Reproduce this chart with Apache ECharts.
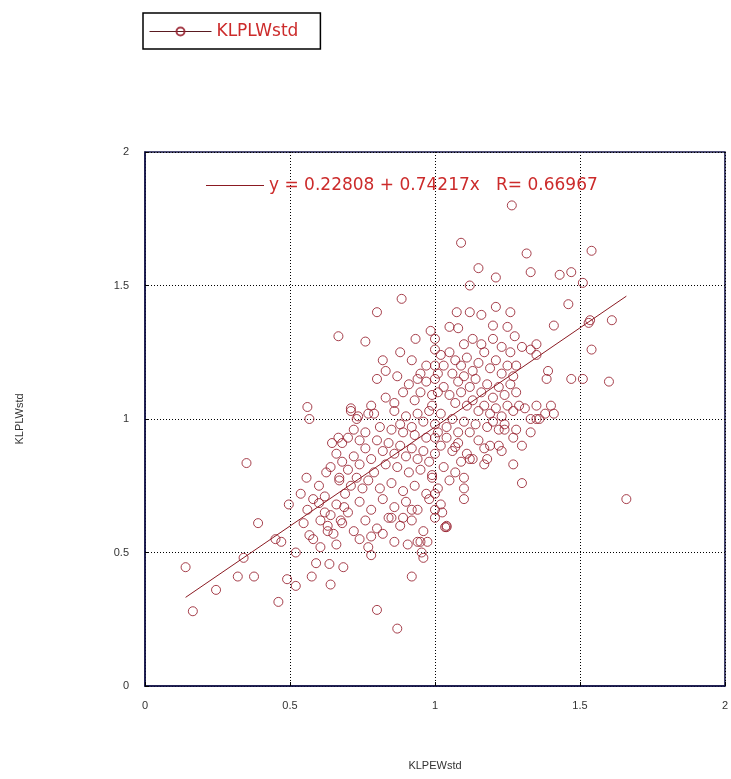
<!DOCTYPE html>
<html>
<head>
<meta charset="utf-8">
<script src="https://cdn.jsdelivr.net/npm/echarts@6/dist/echarts.min.js"></script>
<style>html,body{margin:0;padding:0;background:#fff;overflow:hidden;}#c{width:731px;height:779px;}</style>
</head>
<body>
<div id="c"></div>
<script>
const xName = 'KLPEWstd';
const yName = 'KLPLWstd';
const seriesName = 'KLPLWstd';
const fitIntercept = 0.22808;
const fitSlope = 0.74217;
const fitR = 0.66967;
const fitXRange = [0.14, 1.66];
const xTicks = [0, 0.5, 1, 1.5, 2];
const yTicks = [0, 0.5, 1, 1.5, 2];

const outerPoints = [
[1.265,1.80],[1.09,1.66],[1.316,1.62],[1.54,1.63],[1.15,1.565],[1.21,1.53],[1.33,1.55],[1.43,1.54],[1.47,1.55],[1.51,1.51],
[1.12,1.50],[0.885,1.45],[1.46,1.43],[1.535,1.37],[1.61,1.37],[0.80,1.40],[1.075,1.40],[1.12,1.40],[1.16,1.39],[1.21,1.42],
[1.26,1.40],[0.667,1.31],[0.76,1.29],[0.933,1.30],[0.985,1.33],[1.05,1.345],[1.08,1.34],[1.20,1.35],[1.25,1.345],[1.275,1.31],
[1.41,1.35],[1.53,1.36],[1.35,1.28],[1.33,1.26],[1.35,1.24],[1.54,1.26],[1.39,1.18],[1.385,1.15],[1.47,1.15],[1.51,1.15],
[1.60,1.14],[0.88,1.25],[0.82,1.22],[0.83,1.18],[0.80,1.15],[0.56,1.045],[0.567,1.00],[0.71,1.04],[0.735,1.01],[0.79,1.02],
[1.40,1.05],[1.41,1.02],[1.35,1.00],[1.27,0.93],[1.27,0.83],[1.30,0.76],[1.66,0.70],[1.22,0.90],[1.17,0.89],[1.18,0.85],
[1.12,0.85],[1.10,0.78],[1.10,0.74],[1.10,0.70],[1.04,0.595],[0.95,0.54],[1.28,0.96],[1.24,0.96],[1.07,0.895]
];
const lowerLeftPoints = [
[0.14,0.445],[0.165,0.28],[0.245,0.36],[0.32,0.41],[0.34,0.48],[0.376,0.41],[0.39,0.61],[0.35,0.835],[0.45,0.55],[0.46,0.315],
[0.49,0.40],[0.496,0.68],[0.52,0.375],[0.52,0.50],[0.547,0.61],[0.567,0.565],[0.58,0.55],[0.59,0.46],[0.575,0.41],[0.60,0.685],
[0.625,0.80],[0.537,0.72],[0.557,0.78],[0.667,0.93],[0.645,0.91],[0.64,0.38],[0.636,0.457],[0.684,0.445],[0.605,0.62],[0.605,0.52],
[0.66,0.53],[0.63,0.58],[0.675,0.62],[0.62,0.65],[0.687,0.67],[0.80,0.285],[0.87,0.215],[0.77,0.52],[0.78,0.49],[0.92,0.41],
[0.954,0.50],[0.96,0.48],[0.94,0.54],[0.974,0.54],[1.035,0.595],[1.025,0.65],[0.92,0.66],[0.89,0.63],[0.85,0.63],[0.906,0.53],[0.47,0.54]
];
const upperClusterPoints = [
[1.00,1.26],[1.02,1.24],[1.05,1.25],[1.07,1.22],[1.09,1.20],[1.11,1.23],[1.13,1.18],[1.15,1.21],[1.17,1.25],[1.19,1.19],
[1.21,1.22],[1.23,1.17],[1.25,1.20],[1.27,1.16],[1.06,1.17],[1.08,1.14],[1.10,1.16],[1.12,1.12],[1.14,1.15],[1.16,1.10],
[1.18,1.13],[1.20,1.08],[1.22,1.12],[1.24,1.09],[1.26,1.13],[1.28,1.10],[1.03,1.12],[1.05,1.09],[1.07,1.06],[1.09,1.10],
[1.11,1.05],[1.13,1.07],[1.15,1.03],[1.17,1.05],[1.19,1.02],[1.21,1.04],[1.23,1.01],[1.25,1.05],[1.27,1.03],[1.29,1.05],
[1.31,1.04],[1.18,0.97],[1.20,0.99],[1.22,0.96],[1.24,0.98],[1.14,0.98],[1.12,0.95],[1.10,0.99],[1.08,0.95],[1.06,1.00],
[1.04,0.97],[1.02,1.02],[1.00,0.98],[0.98,1.03],[0.96,0.99],[0.94,1.02],[0.92,0.97],[0.90,1.01],[0.88,0.98],[0.86,1.03],
[0.99,1.09],[0.97,1.14],[1.01,1.17],[1.03,1.20],[0.95,1.10],[1.10,1.28],[1.13,1.30],[1.16,1.28],[1.20,1.30],[1.00,1.30],
[1.26,1.25],[1.30,1.27],[1.28,1.20],[1.23,1.27]
];
const middleClusterPoints = [
[0.80,0.92],[0.82,0.88],[0.84,0.91],[0.86,0.87],[0.88,0.90],[0.90,0.86],[0.92,0.89],[0.94,0.85],[0.96,0.88],[0.98,0.84],
[1.00,0.87],[1.02,0.90],[1.04,0.93],[0.97,0.93],[0.93,0.94],[0.89,0.95],[0.85,0.96],[0.81,0.97],[0.83,0.83],[0.87,0.82],
[0.91,0.80],[0.95,0.81],[0.99,0.79],[1.03,0.82],[1.01,0.95],[0.78,0.85],[0.76,0.89],[0.74,0.83],[0.72,0.86],[0.70,0.81],
[0.68,0.84],[0.79,0.80],[0.77,0.77],[0.75,0.74],[0.73,0.78],[0.71,0.75],[0.69,0.72],[0.67,0.77],[0.81,0.74],[0.85,0.76],
[0.89,0.73],[0.93,0.75],[0.97,0.72],[1.01,0.74],[1.05,0.77],[1.07,0.80],[1.09,0.84],[1.11,0.87],[1.06,0.88],[1.08,0.91]
];
const lowerClusterPoints = [
[0.66,0.68],[0.70,0.65],[0.74,0.69],[0.78,0.66],[0.82,0.70],[0.86,0.67],[0.90,0.69],[0.94,0.66],[0.98,0.70],[1.02,0.68],
[0.68,0.61],[0.72,0.58],[0.76,0.62],[0.80,0.59],[0.84,0.63],[0.88,0.60],[0.92,0.62],[0.96,0.58],[1.00,0.63],[1.04,0.60],
[0.74,0.55],[0.78,0.56],[0.82,0.57],[0.86,0.54],[0.64,0.64],[0.63,0.60],[0.65,0.57]
];
const fillPoints = [
[0.71,1.03],[0.73,1.00],[0.78,1.05],[0.83,1.08],[0.86,1.06],[0.89,1.10],[0.91,1.13],[0.93,1.07],[0.87,1.16],[0.95,1.17],
[0.97,1.20],[0.92,1.22],[0.94,1.15],[0.77,1.02],
[1.15,0.92],[1.19,0.90],[1.23,0.88],[1.30,0.90],[1.33,0.95],[1.36,1.00],[1.38,1.02],[1.13,0.85],[1.17,0.83],[1.35,1.05],[1.33,1.00],
[1.00,1.20],[1.00,1.15],[1.01,1.10],[0.99,1.05],[1.00,0.93],[0.99,0.78],[1.00,0.72],[1.00,0.66],
[0.60,0.75],[0.62,0.71],[0.64,0.82],[0.66,0.87],[0.68,0.91],[0.70,0.93],[0.72,0.96],[0.74,0.92],[0.76,0.95],[0.67,0.78],[0.58,0.70],[0.56,0.66]
];

const allPoints = [].concat(outerPoints, lowerLeftPoints, upperClusterPoints, middleClusterPoints, lowerClusterPoints, fillPoints);
const fitName = 'y = ' + fitIntercept.toFixed(5) + ' + ' + fitSlope.toFixed(5) + 'x   R= ' + fitR.toFixed(5);
const fitLine = fitXRange.map(x => [x, fitIntercept + fitSlope * x]);

const chart = echarts.init(document.getElementById('c'), null, {renderer: 'canvas'});
const axisCommon = {
  min: 0, max: 2, interval: 0.5,
  axisLine: {show: true, onZero: false, lineStyle: {color: '#14144a', width: 1.5}},
  axisTick: {show: true, inside: true, length: 4, lineStyle: {color: '#000'}},
  splitLine: {show: true, lineStyle: {color: '#000', type: [1, 2], width: 1}},
  axisLabel: {color: '#333', fontSize: 11, fontFamily: 'Liberation Sans, Arial, sans-serif'},
  nameTextStyle: {color: '#333', fontSize: 11, fontFamily: 'Liberation Sans, Arial, sans-serif'}
};
chart.setOption({
  animation: false,
  backgroundColor: '#fff',
  grid: {left: 145, right: -1, top: 152, bottom: 93, show: true, borderColor: '#14144a', borderWidth: 1.5, backgroundColor: 'transparent'},
  legend: [
    {
      data: [seriesName], left: 143, top: 13,
      borderColor: '#000', borderWidth: 1.5, padding: [10, 22, 9, 6],
      itemWidth: 62, itemHeight: 10, itemGap: 4,
      textStyle: {color: '#cc2b2b', fontSize: 17, fontFamily: 'DejaVu Sans, sans-serif'},
      lineStyle: {width: 1, color: '#5a1a20', opacity: 1}
    },
    {
      data: [{name: fitName, icon: 'rect'}], left: 206, top: 177, padding: 0,
      itemWidth: 58, itemHeight: 1.2, itemGap: 4,
      itemStyle: {color: '#8b1a22'},
      textStyle: {color: '#cc2b2b', fontSize: 17, fontFamily: 'DejaVu Sans, sans-serif'}
    }
  ],
  xAxis: Object.assign({}, axisCommon, {
    type: 'value', name: xName, nameLocation: 'middle', nameGap: 74,
    axisLabel: Object.assign({}, axisCommon.axisLabel, {margin: 14})
  }),
  yAxis: Object.assign({}, axisCommon, {
    type: 'value', name: yName, nameLocation: 'middle', nameGap: 120,
    axisLabel: Object.assign({}, axisCommon.axisLabel, {margin: 16})
  }),
  series: [
    {
      name: seriesName, type: 'line', data: allPoints,
      symbol: 'circle', symbolSize: 9, showAllSymbol: true,
      lineStyle: {opacity: 0, width: 0},
      itemStyle: {color: 'rgba(0,0,0,0)', borderColor: 'rgba(150,30,45,0.85)', borderWidth: 1},
      z: 3
    },
    {
      name: fitName, type: 'line', data: fitLine, symbol: 'none',
      lineStyle: {color: '#8b1a22', width: 1},
      itemStyle: {color: '#8b1a22'},
      z: 4
    }
  ]
});
</script>
</body>
</html>
